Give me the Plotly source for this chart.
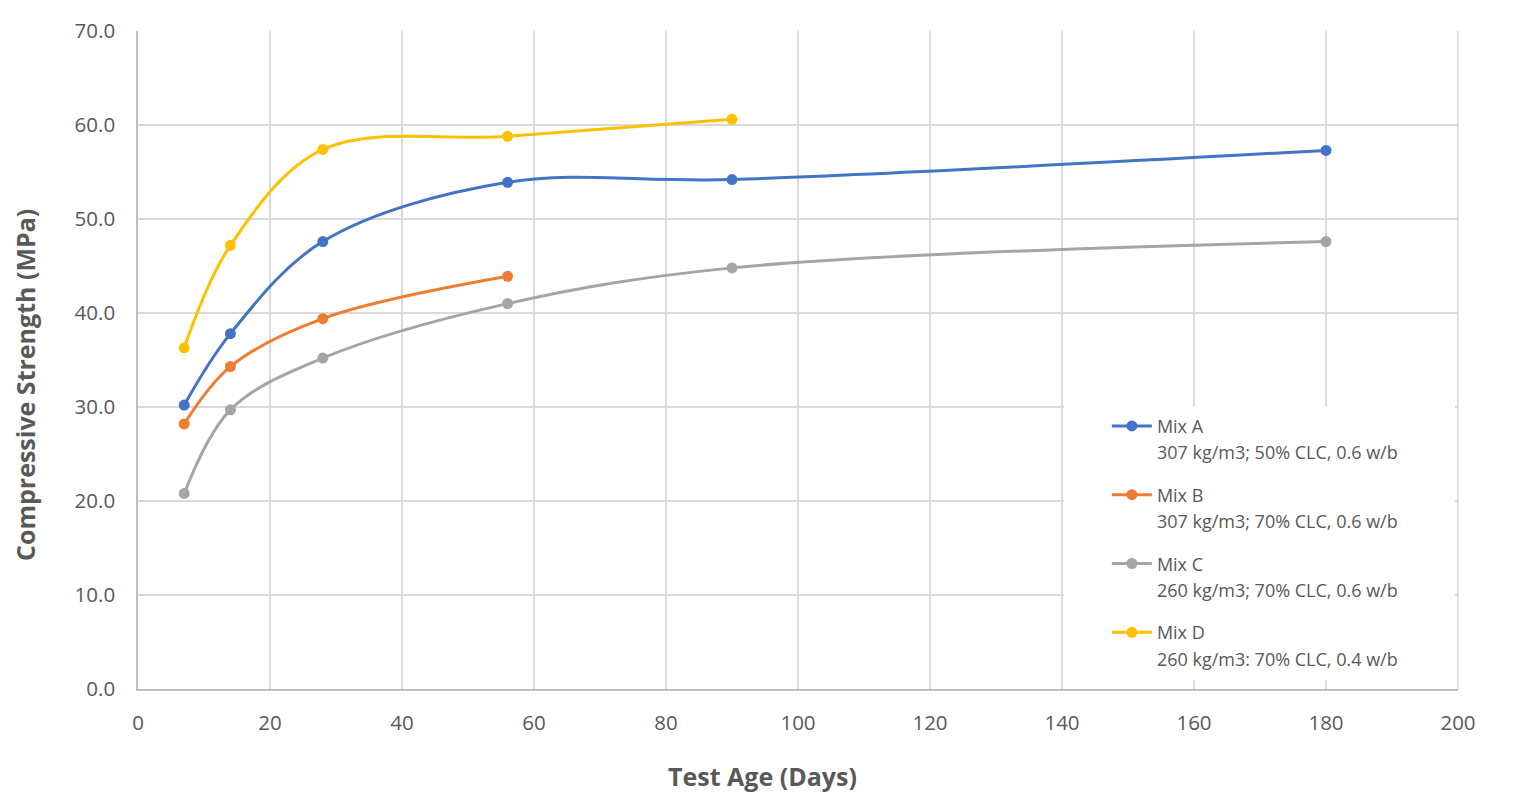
import plotly.graph_objects as go

days_a = [7, 14, 28, 56, 90, 180]
mix_a = [30.2, 37.8, 47.6, 53.9, 54.2, 57.3]
days_b = [7, 14, 28, 56]
mix_b = [28.2, 34.3, 39.4, 43.9]
days_c = [7, 14, 28, 56, 90, 180]
mix_c = [20.8, 29.7, 35.2, 41.0, 44.8, 47.6]
days_d = [7, 14, 28, 56, 90]
mix_d = [36.3, 47.2, 57.4, 58.8, 60.6]

names = ["Mix A", "Mix B", "Mix C", "Mix D"]
descs = [
    "307 kg/m3; 50% CLC, 0.6 w/b",
    "307 kg/m3; 70% CLC, 0.6 w/b",
    "260 kg/m3; 70% CLC, 0.6 w/b",
    "260 kg/m3: 70% CLC, 0.4 w/b",
]
colors = ["#4472C4", "#ED7D31", "#A5A5A5", "#FFC000"]
series = [(days_a, mix_a), (days_b, mix_b), (days_c, mix_c), (days_d, mix_d)]

FONT = "Open Sans"
TXT = "#595959"
GRID = "#D9D9D9"

# page geometry (body has 8px margin)
W, H = 1504, 793
L, T = 130, 23
PW, PH = 1320, 658

fig = go.Figure()
for i, ((xs, ys), nm, ds, c) in enumerate(zip(series, names, descs, colors)):
    fig.add_trace(go.Scatter(
        x=xs, y=ys, name=nm, mode="lines+markers",
        line=dict(color=c, width=3, shape="spline", smoothing=1.0),
        marker=dict(color=c, size=11),
        legendgroup=f"g{i}", hoverinfo="x+y+name",
    ))
    fig.add_trace(go.Scatter(
        x=[None], y=[None], name=ds, mode="lines",
        line=dict(color="rgba(0,0,0,0)", width=1),
        legendgroup=f"g{i}", hoverinfo="skip",
    ))

fig.update_layout(
    width=W, height=H,
    margin=dict(l=L, r=W - L - PW, t=T, b=H - T - PH, autoexpand=False),
    paper_bgcolor="white", plot_bgcolor="white",
    font=dict(family=FONT, color=TXT, size=18),
    showlegend=True,
    legend=dict(
        x=0.734, y=0.4275, xanchor="left", yanchor="top",
        bgcolor="rgba(255,255,255,0)", borderwidth=0,
        font=dict(family=FONT, size=18, color=TXT),
        tracegroupgap=16, itemwidth=40, traceorder="grouped",
    ),
    xaxis=dict(
        range=[0, 200], dtick=20, tick0=0, automargin=False,
        showgrid=True, gridcolor=GRID, gridwidth=1.5,
        showline=True, linecolor="#BFBFBF", linewidth=1.5,
        zeroline=False, ticks="", ticklabelstandoff=15,
        tickfont=dict(size=20.5, color=TXT),
    ),
    yaxis=dict(
        range=[0, 70], dtick=10, tick0=0, tickformat=".1f", automargin=False,
        showgrid=True, gridcolor=GRID, gridwidth=1.5,
        showline=True, linecolor="#BFBFBF", linewidth=1.5,
        zeroline=False, ticks="", ticklabelstandoff=17,
        tickfont=dict(size=20.5, color=TXT),
    ),
    shapes=[
        dict(type="rect", xref="paper", yref="paper",
             x0=(1064 - 138) / PW, x1=(1455 - 138) / PW,
             y0=(689 - 680) / PH, y1=(689 - 406) / PH,
             fillcolor="white", line=dict(width=0), layer="above"),
        dict(type="line", xref="paper", yref="paper",
             x0=1, x1=1, y0=0, y1=1,
             line=dict(color=GRID, width=1.5), layer="above"),
    ],
    annotations=[
        dict(text="<b>Test Age (Days)</b>", xref="paper", yref="paper",
             x=(762 - 138) / PW, y=-(776 - 689) / PH,
             xanchor="center", yanchor="middle", showarrow=False,
             font=dict(family=FONT, size=25, color=TXT)),
        dict(text="<b>Compressive Strength (MPa)</b>", xref="paper", yref="paper",
             x=(25 - 138) / PW, y=(689 - 385) / PH, textangle=-90,
             xanchor="center", yanchor="middle", showarrow=False,
             font=dict(family=FONT, size=25, color=TXT)),
    ],
)

fig.write_html("out.html")
